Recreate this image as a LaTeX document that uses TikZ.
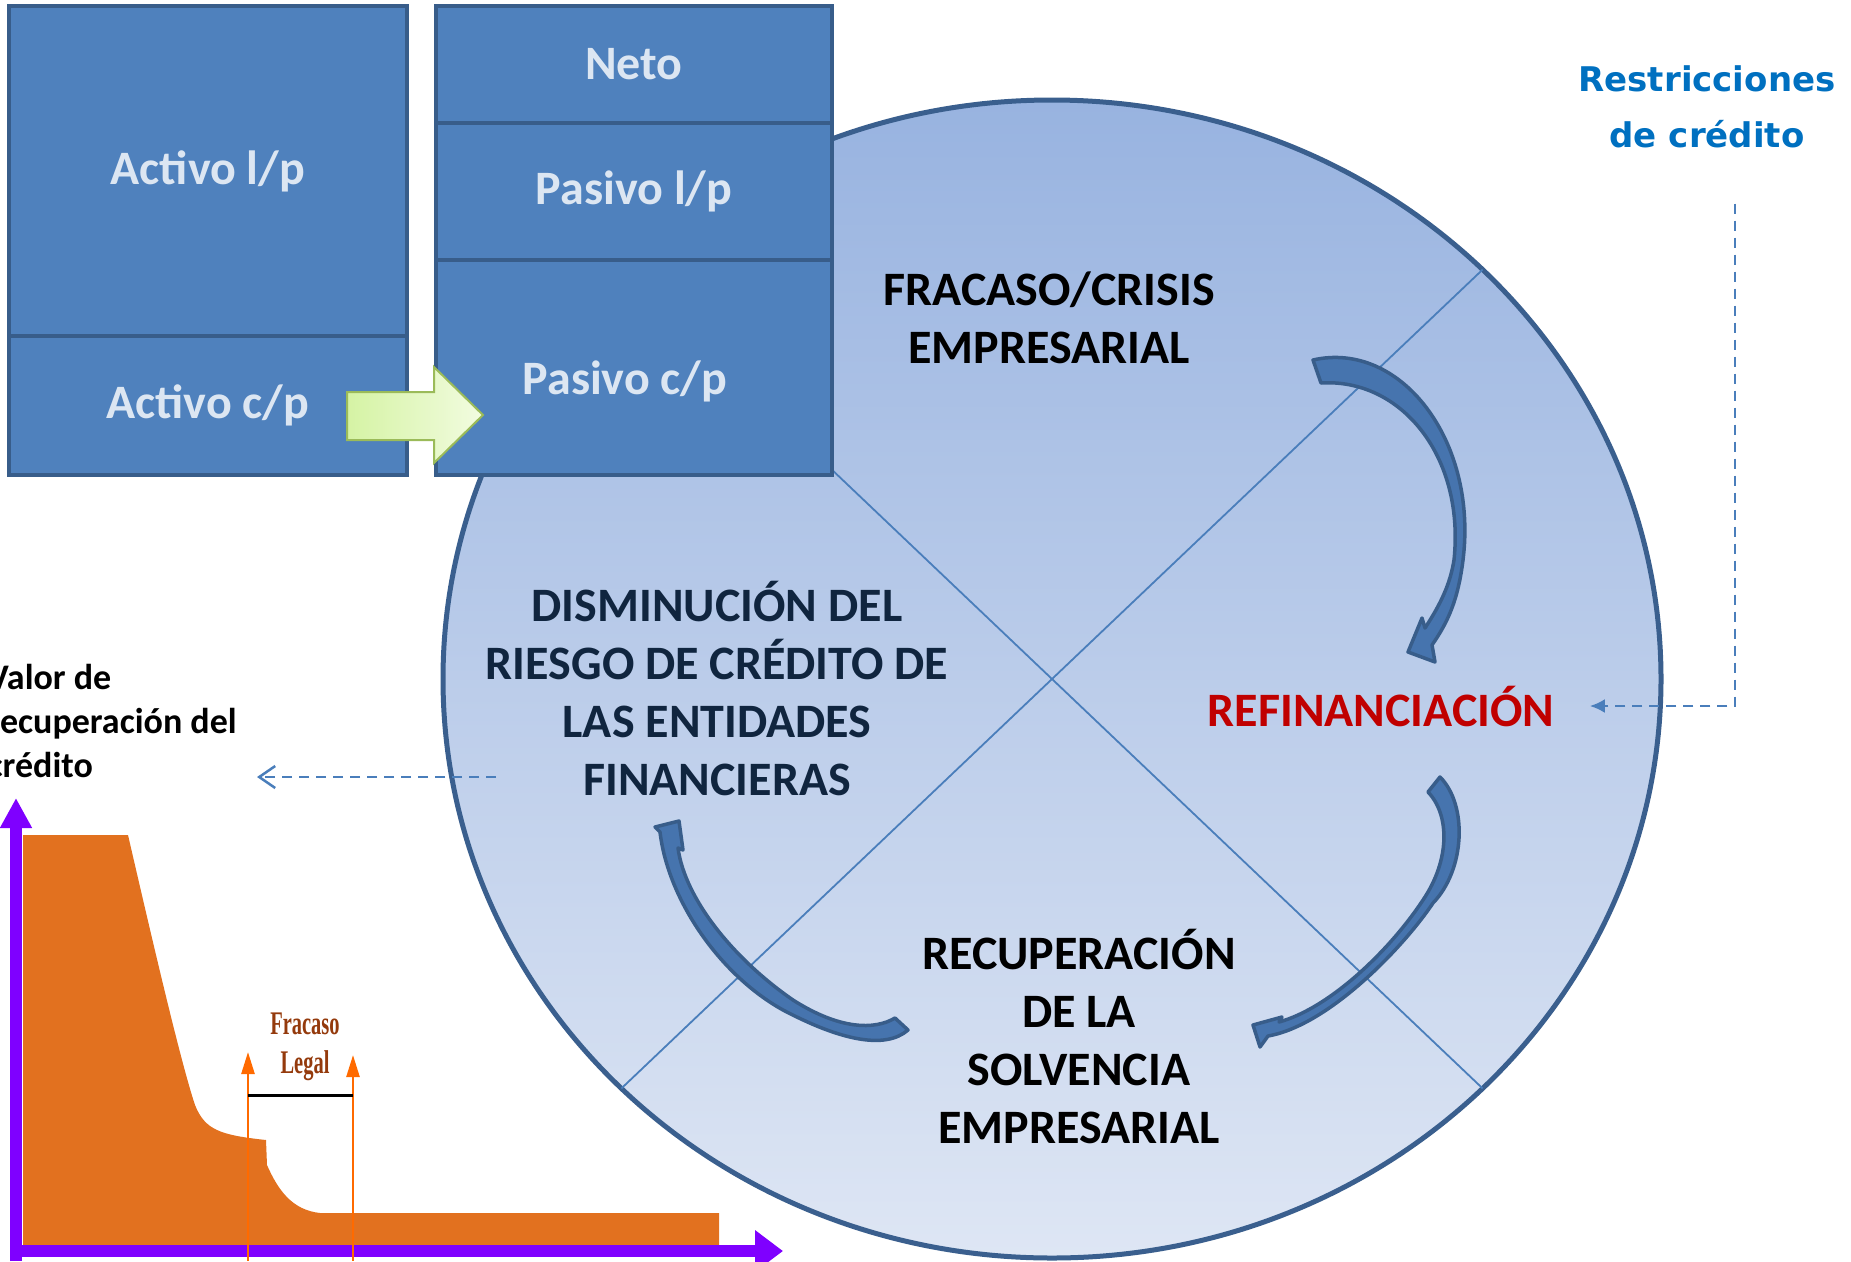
\documentclass[tikz,border=0pt]{standalone}
\usepackage{fontspec}
\setmainfont{Carlito}
\newfontfamily\restrfont{DejaVu Sans}
\newfontfamily\legalfont{Liberation Serif}
\usetikzlibrary{arrows.meta,calc}
\definecolor{boxblue}{HTML}{4F81BD}
\definecolor{boxline}{HTML}{385D8A}
\definecolor{boxtext}{HTML}{DCE6F2}
\definecolor{circtop}{HTML}{98B3E0}
\definecolor{circbot}{HTML}{DEE6F4}
\definecolor{circline}{HTML}{3A5F8E}
\definecolor{crossline}{HTML}{4A7EBB}
\definecolor{arrowfill}{HTML}{4674AE}
\definecolor{navy}{HTML}{10253F}
\definecolor{refred}{HTML}{C00000}
\definecolor{restrblue}{HTML}{0070C0}
\definecolor{chartorange}{HTML}{E2711F}
\definecolor{legalorange}{HTML}{FF6A00}
\definecolor{axispurple}{HTML}{7F00FF}
\definecolor{legalbrown}{HTML}{943A0C}
\definecolor{arrowgreen}{HTML}{9BBB59}
\definecolor{greenlight}{HTML}{F2FCE0}
\definecolor{greendark}{HTML}{D5F3A4}
\begin{document}
\begin{tikzpicture}[x=1pt, y=-1pt,
    balbox/.style={draw=boxline, line width=4pt, fill=boxblue, text=boxtext,
      font=\bfseries\fontsize{48}{58}\selectfont, inner sep=0pt},
    cuadtext/.style={align=center, font=\bfseries\fontsize{48}{58}\selectfont},
    bentarrow/.style={fill=arrowfill, draw=boxline, line width=3.5pt, line join=round},
    dashconn/.style={draw=crossline, line width=2.5pt, dash pattern=on 10pt off 7pt}]
    \useasboundingbox (0,0) rectangle (1851,1261);
    % ciclo
    \shade[top color=circtop, bottom color=circbot] (1052,679) ellipse [x radius=609pt, y radius=579pt];
    \draw[circline, line width=5pt] (1052,679) ellipse [x radius=609pt, y radius=579pt];
    \draw[crossline, line width=1.8pt] (621.4,269.6) -- (1482.6,1088.4);
    \draw[crossline, line width=1.8pt] (621.4,1088.4) -- (1482.6,269.6);
    % balance
    \node[balbox, minimum width=398pt, minimum height=330pt] (actlp) at (208,171) {Activo l/p};
    \node[balbox, minimum width=398pt, minimum height=139pt] (actcp) at (208,405.5) {Activo c/p};
    \node[balbox, minimum width=396pt, minimum height=117pt] (neto) at (634,64.5) {Neto};
    \node[balbox, minimum width=396pt, minimum height=137pt] (paslp) at (634,191.5) {Pasivo l/p};
    \node[balbox, minimum width=396pt, minimum height=215pt] (pascp) at (634,367.5) {\raisebox{-27pt}[0pt][0pt]{Pasivo c/p}\hspace*{18pt}};
    \draw[draw=arrowgreen, line width=2pt, left color=greendark, right color=greenlight]
      (347,392) -- (434,392) -- (434,367) -- (483,415) -- (434,463) -- (434,440) -- (347,440) -- cycle;
    % textos
    \node[cuadtext] (fracaso) at (1049,318) {FRACASO/CRISIS\\EMPRESARIAL};
    \node[cuadtext, text=navy] (dism) at (717,688) {DISMINUCIÓN DEL\\RIESGO DE CRÉDITO DE\\LAS ENTIDADES\\FINANCIERAS};
    \node[cuadtext, text=refred] (refin) at (1381,706) {REFINANCIACIÓN};
    \node[cuadtext] (recup) at (1079,1036) {RECUPERACIÓN\\DE LA\\SOLVENCIA\\EMPRESARIAL};
    \node[align=center, text=restrblue, font=\restrfont\bfseries\fontsize{34}{56}\selectfont] (restr) at (1707,107) {Restricciones\\de crédito};
    \node[anchor=east, align=left, inner sep=0pt, font=\bfseries\fontsize{36}{44}\selectfont] (valor) at (237,721) {Valor de\\recuperación del\\crédito};
    % flechas curvas
    \draw[bentarrow] (1313,360) .. controls (1400,340) and (1478,440) .. (1463,560)
      .. controls (1458,600) and (1448,622) .. (1432,645) -- (1435,662) -- (1408,652) -- (1422,618) -- (1425,628)
      .. controls (1440,605) and (1450,585) .. (1454,560) .. controls (1465,455) and (1400,378) .. (1321,383) -- cycle;
    \draw[bentarrow] (1440,777) .. controls (1468,805) and (1465,870) .. (1433,903)
      .. controls (1405,945) and (1330,1025) .. (1268,1036) -- (1260,1047) -- (1253,1025) -- (1282,1017) -- (1279,1022)
      .. controls (1330,1008) and (1390,950) .. (1423,900) .. controls (1450,860) and (1450,815) .. (1428,792) -- cycle;
    \draw[bentarrow] (908,1030) .. controls (885,1050) and (840,1040) .. (783,1010)
      .. controls (720,975) and (668,900) .. (660,832) -- (655,827) -- (679,821) -- (683,850) -- (678,848)
      .. controls (685,900) and (735,960) .. (793,1000) .. controls (840,1030) and (875,1030) .. (895,1018) -- cycle;
    % conectores
    \draw[dashconn, -{Latex[length=15pt,width=14pt]}] ([xshift=28pt,yshift=-52pt]restr.south) |- ([xshift=32pt]refin.east);
    \coordinate (disfree) at (496,777);
    \draw[dashconn, -{Straight Barb[length=16pt,width=22pt]}] (disfree) -- ($(disfree -| valor.east)+(20,0)$);
    % grafico
    \fill[chartorange] (23,835) -- (128,835) .. controls (150,930) and (180,1060) .. (195,1105)
      .. controls (205,1130) and (220,1135) .. (266,1140) -- (267,1165) .. controls (278,1190) and (292,1210) .. (320,1213)
      -- (719,1213) -- (719,1247) -- (23,1247) -- cycle;
    \draw[axispurple, line width=12pt, -{Triangle[length=30pt,width=30pt]}] (16,1261) -- (16,798);
    \draw[axispurple, line width=12pt, -{Triangle[length=28pt,width=40pt]}] (10,1251) -- (783,1251);
    \draw[legalorange, line width=2.5pt, -{Triangle[length=22pt,width=13pt]}] (248,1261) -- (248,1052);
    \draw[legalorange, line width=2.5pt, -{Triangle[length=22pt,width=13pt]}] (353,1261) -- (353,1055);
    \draw[black, line width=3pt] (248,1095) -- (353,1095);
    \node[align=center, text=legalbrown, font=\legalfont\bfseries\fontsize{33}{39}\selectfont] (legal) at (305,1047) {\scalebox{0.62}[1]{Fracaso}\\\scalebox{0.62}[1]{Legal}};
\end{tikzpicture}
\end{document}
